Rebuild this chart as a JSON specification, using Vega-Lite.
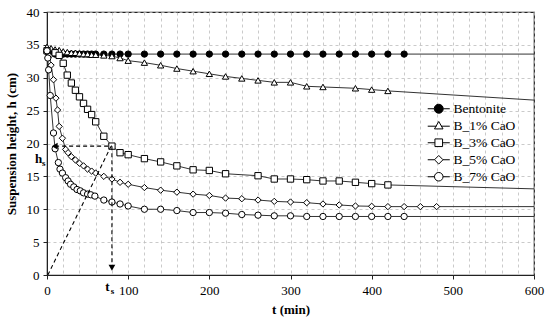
{
  "$schema": "https://vega.github.io/schema/vega-lite/v6.json",
  "width": 487,
  "height": 263,
  "autosize": "none",
  "padding": {"left": 47, "top": 12, "right": 16, "bottom": 49},
  "background": "white",
  "config": {
    "font": "Liberation Serif, Times New Roman, serif",
    "view": {"stroke": "#222222", "strokeWidth": 1.2},
    "axis": {
      "labelFont": "Liberation Serif, Times New Roman, serif", "labelFontSize": 13, "labelColor": "black",
      "titleFont": "Liberation Serif, Times New Roman, serif", "titleFontSize": 13, "titleFontWeight": "bold", "titleColor": "black",
      "domainColor": "#222222", "tickColor": "#222222", "tickSize": 4,
      "gridColor": "#bdbdbd", "gridDash": [3, 3], "gridWidth": 0.8, "labelOverlap": false
    },
    "legend": {"labelFont": "Liberation Serif, Times New Roman, serif", "labelFontSize": 13, "labelColor": "black"},
    "text": {"font": "Liberation Serif, Times New Roman, serif"}
  },
  "datasets": {
    "main": [
      {"s":"Bentonite","k":"o","t":0,"h":34.0},{"s":"Bentonite","k":"o","t":5,"h":33.8},{"s":"Bentonite","k":"o","t":10,"h":33.6},{"s":"Bentonite","k":"o","t":15,"h":33.6},{"s":"Bentonite","k":"o","t":20,"h":33.6},{"s":"Bentonite","k":"o","t":25,"h":33.6},{"s":"Bentonite","k":"o","t":30,"h":33.6},{"s":"Bentonite","k":"o","t":35,"h":33.6},{"s":"Bentonite","k":"o","t":40,"h":33.6},{"s":"Bentonite","k":"o","t":45,"h":33.6},{"s":"Bentonite","k":"o","t":50,"h":33.6},{"s":"Bentonite","k":"o","t":55,"h":33.6},{"s":"Bentonite","k":"o","t":60,"h":33.6},{"s":"Bentonite","k":"o","t":70,"h":33.6},{"s":"Bentonite","k":"o","t":80,"h":33.6},{"s":"Bentonite","k":"o","t":90,"h":33.6},{"s":"Bentonite","k":"o","t":100,"h":33.6},{"s":"Bentonite","k":"o","t":120,"h":33.6},{"s":"Bentonite","k":"o","t":140,"h":33.6},{"s":"Bentonite","k":"o","t":160,"h":33.6},{"s":"Bentonite","k":"o","t":180,"h":33.6},{"s":"Bentonite","k":"o","t":200,"h":33.6},{"s":"Bentonite","k":"o","t":220,"h":33.6},{"s":"Bentonite","k":"o","t":240,"h":33.6},{"s":"Bentonite","k":"o","t":260,"h":33.6},{"s":"Bentonite","k":"o","t":280,"h":33.6},{"s":"Bentonite","k":"o","t":300,"h":33.6},{"s":"Bentonite","k":"o","t":320,"h":33.6},{"s":"Bentonite","k":"o","t":340,"h":33.6},{"s":"Bentonite","k":"o","t":360,"h":33.6},{"s":"Bentonite","k":"o","t":380,"h":33.6},{"s":"Bentonite","k":"o","t":400,"h":33.6},{"s":"Bentonite","k":"o","t":420,"h":33.6},{"s":"Bentonite","k":"o","t":440,"h":33.6},{"s":"Bentonite","k":"f","t":600,"h":33.6},

      {"s":"B_1% CaO","k":"o","t":0,"h":34.7},{"s":"B_1% CaO","k":"o","t":5,"h":34.5},{"s":"B_1% CaO","k":"o","t":10,"h":34.3},{"s":"B_1% CaO","k":"o","t":15,"h":34.2},{"s":"B_1% CaO","k":"o","t":20,"h":34.0},{"s":"B_1% CaO","k":"o","t":25,"h":33.9},{"s":"B_1% CaO","k":"o","t":30,"h":33.8},{"s":"B_1% CaO","k":"o","t":35,"h":33.8},{"s":"B_1% CaO","k":"o","t":40,"h":33.7},{"s":"B_1% CaO","k":"o","t":45,"h":33.6},{"s":"B_1% CaO","k":"o","t":50,"h":33.6},{"s":"B_1% CaO","k":"o","t":55,"h":33.5},{"s":"B_1% CaO","k":"o","t":60,"h":33.5},{"s":"B_1% CaO","k":"o","t":70,"h":33.4},{"s":"B_1% CaO","k":"o","t":80,"h":33.3},{"s":"B_1% CaO","k":"o","t":90,"h":33.0},{"s":"B_1% CaO","k":"o","t":100,"h":32.6},{"s":"B_1% CaO","k":"o","t":120,"h":32.3},{"s":"B_1% CaO","k":"o","t":140,"h":31.9},{"s":"B_1% CaO","k":"o","t":160,"h":31.4},{"s":"B_1% CaO","k":"o","t":180,"h":31.0},{"s":"B_1% CaO","k":"o","t":200,"h":30.6},{"s":"B_1% CaO","k":"o","t":220,"h":30.2},{"s":"B_1% CaO","k":"o","t":240,"h":29.9},{"s":"B_1% CaO","k":"o","t":260,"h":29.6},{"s":"B_1% CaO","k":"o","t":280,"h":29.3},{"s":"B_1% CaO","k":"o","t":300,"h":29.3},{"s":"B_1% CaO","k":"o","t":320,"h":28.7},{"s":"B_1% CaO","k":"o","t":340,"h":28.6},{"s":"B_1% CaO","k":"o","t":380,"h":28.4},{"s":"B_1% CaO","k":"o","t":400,"h":28.2},{"s":"B_1% CaO","k":"o","t":420,"h":28.0},{"s":"B_1% CaO","k":"f","t":600,"h":26.6},

      {"s":"B_3% CaO","k":"o","t":0,"h":34.1},{"s":"B_3% CaO","k":"o","t":10,"h":33.8},{"s":"B_3% CaO","k":"o","t":15,"h":33.4},{"s":"B_3% CaO","k":"o","t":20,"h":32.2},{"s":"B_3% CaO","k":"o","t":25,"h":30.4},{"s":"B_3% CaO","k":"o","t":30,"h":29.2},{"s":"B_3% CaO","k":"o","t":35,"h":28.1},{"s":"B_3% CaO","k":"o","t":40,"h":27.1},{"s":"B_3% CaO","k":"o","t":45,"h":26.1},{"s":"B_3% CaO","k":"o","t":50,"h":25.2},{"s":"B_3% CaO","k":"o","t":55,"h":24.4},{"s":"B_3% CaO","k":"o","t":60,"h":23.3},{"s":"B_3% CaO","k":"o","t":70,"h":21.1},{"s":"B_3% CaO","k":"o","t":80,"h":19.6},{"s":"B_3% CaO","k":"o","t":90,"h":18.6},{"s":"B_3% CaO","k":"o","t":100,"h":18.3},{"s":"B_3% CaO","k":"o","t":120,"h":17.7},{"s":"B_3% CaO","k":"o","t":140,"h":17.2},{"s":"B_3% CaO","k":"o","t":160,"h":16.6},{"s":"B_3% CaO","k":"o","t":180,"h":16.0},{"s":"B_3% CaO","k":"o","t":200,"h":15.9},{"s":"B_3% CaO","k":"o","t":220,"h":15.4},{"s":"B_3% CaO","k":"o","t":260,"h":15.1},{"s":"B_3% CaO","k":"o","t":280,"h":14.6},{"s":"B_3% CaO","k":"o","t":300,"h":14.6},{"s":"B_3% CaO","k":"o","t":320,"h":14.5},{"s":"B_3% CaO","k":"o","t":340,"h":14.3},{"s":"B_3% CaO","k":"o","t":360,"h":14.3},{"s":"B_3% CaO","k":"o","t":380,"h":14.1},{"s":"B_3% CaO","k":"o","t":400,"h":13.9},{"s":"B_3% CaO","k":"o","t":420,"h":13.7},{"s":"B_3% CaO","k":"f","t":600,"h":13.1},

      {"s":"B_5% CaO","k":"o","t":0,"h":34.0},{"s":"B_5% CaO","k":"o","t":3,"h":33.3},{"s":"B_5% CaO","k":"o","t":5,"h":31.9},{"s":"B_5% CaO","k":"o","t":8,"h":29.7},{"s":"B_5% CaO","k":"o","t":11,"h":26.9},{"s":"B_5% CaO","k":"o","t":13,"h":25.1},{"s":"B_5% CaO","k":"o","t":15,"h":22.6},{"s":"B_5% CaO","k":"o","t":19,"h":20.8},{"s":"B_5% CaO","k":"o","t":23,"h":19.1},{"s":"B_5% CaO","k":"o","t":26,"h":18.6},{"s":"B_5% CaO","k":"o","t":30,"h":18.0},{"s":"B_5% CaO","k":"o","t":35,"h":17.5},{"s":"B_5% CaO","k":"o","t":40,"h":17.0},{"s":"B_5% CaO","k":"o","t":45,"h":16.6},{"s":"B_5% CaO","k":"o","t":50,"h":16.1},{"s":"B_5% CaO","k":"o","t":55,"h":15.8},{"s":"B_5% CaO","k":"o","t":60,"h":15.5},{"s":"B_5% CaO","k":"o","t":70,"h":15.0},{"s":"B_5% CaO","k":"o","t":80,"h":14.6},{"s":"B_5% CaO","k":"o","t":90,"h":14.1},{"s":"B_5% CaO","k":"o","t":100,"h":13.8},{"s":"B_5% CaO","k":"o","t":120,"h":13.3},{"s":"B_5% CaO","k":"o","t":140,"h":12.9},{"s":"B_5% CaO","k":"o","t":160,"h":12.6},{"s":"B_5% CaO","k":"o","t":180,"h":12.3},{"s":"B_5% CaO","k":"o","t":200,"h":12.1},{"s":"B_5% CaO","k":"o","t":220,"h":11.7},{"s":"B_5% CaO","k":"o","t":240,"h":11.6},{"s":"B_5% CaO","k":"o","t":260,"h":11.4},{"s":"B_5% CaO","k":"o","t":280,"h":11.2},{"s":"B_5% CaO","k":"o","t":300,"h":11.1},{"s":"B_5% CaO","k":"o","t":320,"h":11.0},{"s":"B_5% CaO","k":"o","t":340,"h":10.8},{"s":"B_5% CaO","k":"o","t":360,"h":10.65},{"s":"B_5% CaO","k":"o","t":380,"h":10.5},{"s":"B_5% CaO","k":"o","t":400,"h":10.45},{"s":"B_5% CaO","k":"o","t":420,"h":10.4},{"s":"B_5% CaO","k":"o","t":440,"h":10.4},{"s":"B_5% CaO","k":"o","t":460,"h":10.4},{"s":"B_5% CaO","k":"o","t":480,"h":10.4},{"s":"B_5% CaO","k":"f","t":600,"h":10.4},

      {"s":"B_7% CaO","k":"o","t":0,"h":34.1},{"s":"B_7% CaO","k":"o","t":1,"h":33.0},{"s":"B_7% CaO","k":"o","t":2,"h":31.2},{"s":"B_7% CaO","k":"o","t":4,"h":27.3},{"s":"B_7% CaO","k":"o","t":8,"h":21.6},{"s":"B_7% CaO","k":"o","t":10,"h":19.2},{"s":"B_7% CaO","k":"o","t":14,"h":17.1},{"s":"B_7% CaO","k":"o","t":16,"h":16.1},{"s":"B_7% CaO","k":"o","t":19,"h":15.5},{"s":"B_7% CaO","k":"o","t":23,"h":14.8},{"s":"B_7% CaO","k":"o","t":26,"h":14.3},{"s":"B_7% CaO","k":"o","t":29,"h":13.8},{"s":"B_7% CaO","k":"o","t":33,"h":13.4},{"s":"B_7% CaO","k":"o","t":37,"h":13.0},{"s":"B_7% CaO","k":"o","t":41,"h":12.8},{"s":"B_7% CaO","k":"o","t":45,"h":12.5},{"s":"B_7% CaO","k":"o","t":50,"h":12.3},{"s":"B_7% CaO","k":"o","t":54,"h":12.2},{"s":"B_7% CaO","k":"o","t":59,"h":12.0},{"s":"B_7% CaO","k":"o","t":70,"h":11.4},{"s":"B_7% CaO","k":"o","t":80,"h":11.1},{"s":"B_7% CaO","k":"o","t":90,"h":10.8},{"s":"B_7% CaO","k":"o","t":100,"h":10.5},{"s":"B_7% CaO","k":"o","t":120,"h":10.0},{"s":"B_7% CaO","k":"o","t":140,"h":10.0},{"s":"B_7% CaO","k":"o","t":160,"h":9.8},{"s":"B_7% CaO","k":"o","t":180,"h":9.5},{"s":"B_7% CaO","k":"o","t":200,"h":9.5},{"s":"B_7% CaO","k":"o","t":220,"h":9.4},{"s":"B_7% CaO","k":"o","t":240,"h":9.2},{"s":"B_7% CaO","k":"o","t":260,"h":9.1},{"s":"B_7% CaO","k":"o","t":280,"h":9.0},{"s":"B_7% CaO","k":"o","t":300,"h":9.0},{"s":"B_7% CaO","k":"o","t":320,"h":8.9},{"s":"B_7% CaO","k":"o","t":340,"h":8.9},{"s":"B_7% CaO","k":"o","t":360,"h":8.9},{"s":"B_7% CaO","k":"o","t":380,"h":8.9},{"s":"B_7% CaO","k":"o","t":400,"h":8.9},{"s":"B_7% CaO","k":"o","t":420,"h":8.9},{"s":"B_7% CaO","k":"o","t":440,"h":8.9},{"s":"B_7% CaO","k":"f","t":600,"h":8.9}
    ]
  },
  "layer": [
    {
      "data": {"name": "main"},
      "mark": {"type": "line", "color": "#333333", "strokeWidth": 1},
      "encoding": {
        "x": {"field": "t", "type": "quantitative",
          "scale": {"domain": [0, 600], "nice": false},
          "axis": {"title": "t (min)", "values": [0,20,40,60,80,100,120,140,160,180,200,220,240,260,280,300,320,340,360,380,400,420,440,460,480,500,520,540,560,580,600],
            "tickCount": 100,
            "labelExpr": "datum.value % 100 === 0 ? datum.label : ''",
            "tickOpacity": {"condition": {"test": "datum.value % 100 === 0", "value": 1}, "value": 0},
            "labelOverlap": false,
            "labelPadding": 5, "titlePadding": 6, "labelFlush": false}},
        "y": {"field": "h", "type": "quantitative",
          "scale": {"domain": [0, 40], "nice": false},
          "axis": {"title": "Suspension height, h  (cm)", "values": [0,5,10,15,20,25,30,35,40], "tickCount": 50, "labelOverlap": false, "labelPadding": 4, "titlePadding": 8, "labelFlush": false}},
        "detail": {"field": "s"},
        "order": {"field": "t", "type": "quantitative"}
      }
    },
    {
      "data": {"name": "main"},
      "transform": [{"filter": "datum.k === 'o'"}],
      "mark": {"type": "point", "filled": false, "stroke": "black", "strokeWidth": 1, "size": 40, "opacity": 1},
      "encoding": {
        "x": {"field": "t", "type": "quantitative"},
        "y": {"field": "h", "type": "quantitative"},
        "shape": {"field": "s", "type": "nominal", "legend": null,
          "scale": {"domain": ["Bentonite","B_1% CaO","B_3% CaO","B_5% CaO","B_7% CaO"], "range": ["circle","triangle-up","square","diamond","circle"]}},
        "fill": {"field": "s", "type": "nominal", "legend": null,
          "scale": {"domain": ["Bentonite","B_1% CaO","B_3% CaO","B_5% CaO","B_7% CaO"], "range": ["black","white","white","white","white"]}}
      }
    },
    {
      "data": {"values": [
        {"id":"hz","t":10,"h":19.6},{"id":"hz","t":80,"h":19.6},
        {"id":"vt","t":80,"h":19.6},{"id":"vt","t":80,"h":1.5},
        {"id":"dg","t":1,"h":0},{"id":"dg","t":79,"h":19.6}
      ]},
      "mark": {"type": "line", "color": "black", "strokeWidth": 1.1, "strokeDash": [4, 3]},
      "encoding": {
        "x": {"field": "t", "type": "quantitative"},
        "y": {"field": "h", "type": "quantitative"},
        "detail": {"field": "id"}
      }
    },
    {
      "data": {"values": [{"t": 9.5, "h": 19.6}]},
      "mark": {"type": "point", "shape": "triangle-left", "filled": true, "color": "black", "size": 45, "opacity": 1},
      "encoding": {"x": {"field": "t", "type": "quantitative"}, "y": {"field": "h", "type": "quantitative"}}
    },
    {
      "data": {"values": [{"t": 80, "h": 1.1}]},
      "mark": {"type": "point", "shape": "triangle-down", "filled": true, "color": "black", "size": 45, "opacity": 1},
      "encoding": {"x": {"field": "t", "type": "quantitative"}, "y": {"field": "h", "type": "quantitative"}}
    },
    {
      "data": {"values": [{"txt": "h", "t": -10.3, "h": 17.7}, {"txt": "t", "t": 74.5, "h": -1.9}]},
      "mark": {"type": "text", "fontSize": 13, "fontWeight": "bold", "color": "black", "clip": false},
      "encoding": {"x": {"field": "t", "type": "quantitative"}, "y": {"field": "h", "type": "quantitative"}, "text": {"field": "txt"}}
    },
    {
      "data": {"values": [{"txt": "s", "t": -4.0, "h": 17.0}, {"txt": "s", "t": 80.8, "h": -2.5}]},
      "mark": {"type": "text", "fontSize": 9, "fontWeight": "bold", "color": "black", "clip": false},
      "encoding": {"x": {"field": "t", "type": "quantitative"}, "y": {"field": "h", "type": "quantitative"}, "text": {"field": "txt"}}
    },
    {
      "data": {"name": "main"},
      "transform": [{"filter": "datum.k === 'none'"}],
      "mark": {"type": "point", "filled": false, "strokeWidth": 1, "size": 81, "opacity": 1},
      "encoding": {
        "x": {"field": "t", "type": "quantitative"},
        "y": {"field": "h", "type": "quantitative"},
        "shape": {"field": "s", "type": "nominal", "title": null,
          "scale": {"domain": ["Bentonite","B_1% CaO","B_3% CaO","B_5% CaO","B_7% CaO"],
            "range": [
              "M-2.45,0H-1M1,0H2.45M1,0A1,1 0 1,1 -1,0A1,1 0 1,1 1,0Z",
              "M-2.45,0.1H-0.5M0.5,0.1H2.45M0,-0.95L0.95,0.7L-0.95,0.7Z",
              "M-2.45,0H-0.85M0.85,0H2.45M-0.85,-0.85H0.85V0.85H-0.85Z",
              "M-2.45,0H-0.95M0.95,0H2.45M0,-0.95L0.95,0L0,0.95L-0.95,0Z",
              "M-2.45,0H-0.95M0.95,0H2.45M0.95,0A0.95,0.95 0 1,1 -0.95,0A0.95,0.95 0 1,1 0.95,0Z"
            ]},
          "legend": {"orient": "none", "legendX": 385, "legendY": 90, "padding": 0, "symbolSize": 81, "symbolOpacity": 1, "symbolStrokeWidth": 1, "labelOffset": 8, "rowPadding": 2, "labelFontSize": 13.5}},
        "fill": {"field": "s", "type": "nominal", "title": null,
          "scale": {"domain": ["Bentonite","B_1% CaO","B_3% CaO","B_5% CaO","B_7% CaO"], "range": ["black","white","white","white","white"]}},
        "stroke": {"field": "s", "type": "nominal", "title": null,
          "scale": {"domain": ["Bentonite","B_1% CaO","B_3% CaO","B_5% CaO","B_7% CaO"], "range": ["black","black","black","black","black"]}}
      }
    }
  ],
  "resolve": {"scale": {"shape": "independent", "fill": "independent", "stroke": "independent"}}
}
